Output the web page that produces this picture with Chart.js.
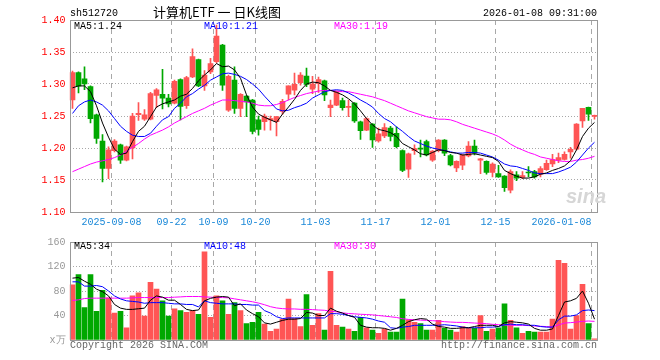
<!DOCTYPE html>
<html>
<head>
<meta charset="utf-8">
<script src="https://cdn.jsdelivr.net/npm/chart.js"></script>
<style>
  html, body { margin: 0; padding: 0; background: #fff; }
  #wrap { position: relative; width: 660px; height: 360px; overflow: hidden;
    font-family: "Liberation Mono", "DejaVu Sans Mono", monospace; font-size: 10px; }
  canvas { position: absolute; left: 0; }
  #priceChart { top: 0; }
  #volumeChart { top: 232px; }
  .txt { position: absolute; white-space: pre; line-height: 12px; }
  .right { text-align: right; }
</style>
</head>
<body>
<div id="wrap">
  <canvas id="priceChart" width="660" height="232"></canvas>
  <canvas id="volumeChart" width="660" height="128"></canvas>

  <div class="txt" style="left:70px; top:8px; color:#000;">sh512720</div>
  <div class="txt" style="left:117px; top:4px; width:200px; text-align:center; line-height:16px; font-size:13px; font-family:'Noto Sans CJK SC', sans-serif; color:#000;">计算机ETF 一 日K线图</div>
  <div class="txt right" style="right:63px; top:8px; color:#000;">2026-01-08 09:31:00</div>

  <div class="txt" style="left:74px; top:21px; color:#000;">MA5:1.24</div>
  <div class="txt" style="left:204px; top:21px; color:#0000ff;">MA10:1.21</div>
  <div class="txt" style="left:334px; top:21px; color:#ff00ff;">MA30:1.19</div>

  <div class="txt" style="left:566px; top:184px; font: italic bold 20px 'Liberation Sans', sans-serif; line-height:24px; color:#d6d6d6;">sina</div>

  <div class="txt" style="left:74px; top:241px; color:#000;">MA5:34</div>
  <div class="txt" style="left:204px; top:241px; color:#0000ff;">MA10:48</div>
  <div class="txt" style="left:334px; top:241px; color:#ff00ff;">MA30:30</div>

  <div class="txt" style="left:70px; top:340px; color:#666;">Copyright 2026 SINA.COM</div>
  <div class="txt right" style="right:63px; top:340px; color:#666;">http://finance.sina.com.cn</div>
</div>

<script>
const dates = [
  "2025-08-28", "2025-08-29",
  "2025-09-01", "2025-09-02", "2025-09-03", "2025-09-04", "2025-09-05",
  "2025-09-08", "2025-09-09", "2025-09-10", "2025-09-11", "2025-09-12",
  "2025-09-15", "2025-09-16", "2025-09-17", "2025-09-18", "2025-09-19",
  "2025-09-22", "2025-09-23", "2025-09-24", "2025-09-25", "2025-09-26",
  "2025-09-29", "2025-09-30",
  "2025-10-09", "2025-10-10", "2025-10-13", "2025-10-14", "2025-10-15",
  "2025-10-16", "2025-10-17", "2025-10-20", "2025-10-21", "2025-10-22",
  "2025-10-23", "2025-10-24", "2025-10-27", "2025-10-28", "2025-10-29",
  "2025-10-30", "2025-10-31",
  "2025-11-03", "2025-11-04", "2025-11-05", "2025-11-06", "2025-11-07",
  "2025-11-10", "2025-11-11", "2025-11-12", "2025-11-13", "2025-11-14",
  "2025-11-17", "2025-11-18", "2025-11-19", "2025-11-20", "2025-11-21",
  "2025-11-24", "2025-11-25", "2025-11-26", "2025-11-27", "2025-11-28",
  "2025-12-01", "2025-12-02", "2025-12-03", "2025-12-04", "2025-12-05",
  "2025-12-08", "2025-12-09", "2025-12-10", "2025-12-11", "2025-12-12",
  "2025-12-15", "2025-12-16", "2025-12-17", "2025-12-18", "2025-12-19",
  "2025-12-22", "2025-12-23", "2025-12-24", "2025-12-25", "2025-12-26",
  "2025-12-29", "2025-12-30", "2025-12-31",
  "2026-01-05", "2026-01-06", "2026-01-07", "2026-01-08",
];

const tickDates = ["2025-09-08", "2025-09-22", "2025-10-09", "2025-10-20", "2025-11-03",
  "2025-11-17", "2025-12-01", "2025-12-15", "2026-01-08"];
const tickTexts = ["2025-09-08", "09-22", "10-09", "10-20", "11-03",
  "11-17", "12-01", "12-15", "2026-01-08"];

const openPrices = [1.275, 1.318, 1.308, 1.296, 1.252, 1.211, 1.168, 1.196, 1.205, 1.181,
  1.200, 1.252, 1.245, 1.245, 1.282, 1.284, 1.278, 1.270, 1.307, 1.266,
  1.311, 1.338, 1.297, 1.319, 1.335, 1.361, 1.259, 1.306, 1.262, 1.281,
  1.275, 1.244, 1.241, 1.244, 1.241, 1.257, 1.284, 1.2905, 1.302, 1.3125,
  1.292, 1.301, 1.305, 1.263, 1.267, 1.274, 1.2635, 1.270, 1.241, 1.228,
  1.2375, 1.211, 1.219, 1.231, 1.223, 1.196, 1.167, 1.196, 1.200, 1.210,
  1.181, 1.196, 1.2125, 1.188, 1.169, 1.173, 1.1875, 1.203, 1.181, 1.179,
  1.162, 1.160, 1.156, 1.134, 1.158, 1.154, 1.162, 1.163, 1.159, 1.166,
  1.175, 1.181, 1.182, 1.194, 1.198, 1.2425, 1.2635, 1.2495];
const highPrices = [1.320, 1.319, 1.327, 1.297, 1.253, 1.221, 1.202, 1.213, 1.206, 1.203,
  1.254, 1.271, 1.260, 1.287, 1.293, 1.323, 1.284, 1.306, 1.308, 1.312,
  1.355, 1.339, 1.321, 1.340, 1.392, 1.362, 1.314, 1.327, 1.285, 1.282,
  1.276, 1.250, 1.253, 1.250, 1.249, 1.276, 1.297, 1.317, 1.318, 1.325,
  1.312, 1.311, 1.306, 1.275, 1.289, 1.278, 1.275, 1.271, 1.242, 1.247,
  1.238, 1.231, 1.238, 1.234, 1.233, 1.197, 1.192, 1.205, 1.2125, 1.2125,
  1.196, 1.213, 1.213, 1.190, 1.180, 1.190, 1.210, 1.2125, 1.184, 1.180,
  1.177, 1.173, 1.157, 1.166, 1.163, 1.163, 1.171, 1.165, 1.171, 1.181,
  1.190, 1.192, 1.194, 1.201, 1.238, 1.262, 1.264, 1.2516];
const lowPrices = [1.262, 1.286, 1.291, 1.239, 1.207, 1.147, 1.152, 1.194, 1.176, 1.180,
  1.183, 1.243, 1.243, 1.244, 1.263, 1.261, 1.264, 1.269, 1.244, 1.262,
  1.310, 1.296, 1.290, 1.316, 1.333, 1.290, 1.257, 1.254, 1.249, 1.249,
  1.222, 1.220, 1.228, 1.228, 1.219, 1.253, 1.275, 1.283, 1.298, 1.296,
  1.285, 1.287, 1.274, 1.249, 1.266, 1.259, 1.249, 1.240, 1.2135, 1.227,
  1.201, 1.209, 1.216, 1.211, 1.200, 1.163, 1.154, 1.190, 1.186, 1.1875,
  1.179, 1.194, 1.188, 1.172, 1.163, 1.166, 1.186, 1.189, 1.160, 1.159,
  1.155, 1.154, 1.132, 1.130, 1.149, 1.152, 1.155, 1.153, 1.155, 1.165,
  1.171, 1.177, 1.181, 1.184, 1.197, 1.232, 1.243, 1.245];
const closePrices = [1.318, 1.297, 1.300, 1.246, 1.215, 1.168, 1.197, 1.211, 1.181, 1.202,
  1.250, 1.254, 1.252, 1.285, 1.291, 1.278, 1.269, 1.304, 1.265, 1.310,
  1.343, 1.297, 1.314, 1.332, 1.375, 1.298, 1.312, 1.262, 1.284, 1.272,
  1.226, 1.229, 1.250, 1.246, 1.249, 1.273, 1.297, 1.2995, 1.314, 1.2995,
  1.300, 1.307, 1.283, 1.267, 1.288, 1.263, 1.2645, 1.2425, 1.227, 1.246,
  1.2125, 1.222, 1.232, 1.218, 1.202, 1.165, 1.191, 1.199, 1.198, 1.189,
  1.195, 1.2125, 1.192, 1.1735, 1.179, 1.189, 1.203, 1.192, 1.183, 1.162,
  1.175, 1.155, 1.138, 1.163, 1.153, 1.157, 1.161, 1.155, 1.168, 1.176,
  1.182, 1.185, 1.190, 1.198, 1.2375, 1.262, 1.253, 1.2505];

const priceMa5 = [1.294, 1.297, 1.297, 1.288, 1.266, 1.239, 1.217, 1.198, 1.190, 1.192,
  1.210, 1.226, 1.234, 1.249, 1.264, 1.269, 1.272, 1.275, 1.281, 1.284,
  1.293, 1.305, 1.314, 1.322, 1.332, 1.327, 1.328, 1.322, 1.309, 1.283,
  1.264, 1.253, 1.248, 1.244, 1.240, 1.253, 1.264, 1.276, 1.290, 1.300,
  1.303, 1.302, 1.297, 1.290, 1.287, 1.283, 1.277, 1.269, 1.258, 1.246,
  1.236, 1.229, 1.227, 1.224, 1.218, 1.207, 1.202, 1.197, 1.191, 1.189,
  1.193, 1.197, 1.196, 1.193, 1.192, 1.189, 1.190, 1.191, 1.189, 1.187,
  1.185, 1.179, 1.165, 1.160, 1.156, 1.153, 1.153, 1.155, 1.159, 1.161,
  1.165, 1.168, 1.172, 1.180, 1.197, 1.218, 1.231, 1.240];
const priceMa10 = [1.254, 1.266, 1.272, 1.275, 1.272, 1.267, 1.258, 1.246, 1.234, 1.226,
  1.220, 1.218, 1.218, 1.223, 1.234, 1.244, 1.249, 1.262, 1.270, 1.280,
  1.285, 1.292, 1.298, 1.306, 1.311, 1.316, 1.317, 1.315, 1.312, 1.307,
  1.300, 1.292, 1.281, 1.271, 1.261, 1.258, 1.259, 1.263, 1.266, 1.270,
  1.278, 1.283, 1.288, 1.290, 1.291, 1.290, 1.286, 1.281, 1.275, 1.270,
  1.264, 1.254, 1.246, 1.241, 1.233, 1.226, 1.218, 1.211, 1.207, 1.203,
  1.200, 1.198, 1.196, 1.194, 1.192, 1.192, 1.193, 1.193, 1.192, 1.189,
  1.186, 1.181, 1.175, 1.172, 1.171, 1.168, 1.165, 1.161, 1.160, 1.160,
  1.160, 1.1625, 1.166, 1.170, 1.178, 1.189, 1.200, 1.209];
const priceMa30 = [1.163, 1.167, 1.171, 1.175, 1.178, 1.180, 1.182, 1.185, 1.189, 1.195,
  1.201, 1.207, 1.214, 1.220, 1.224, 1.228, 1.233, 1.239, 1.244, 1.249,
  1.254, 1.258, 1.262, 1.267, 1.271, 1.275, 1.275, 1.274, 1.273, 1.272,
  1.270, 1.267, 1.266, 1.266, 1.268, 1.271, 1.275, 1.279, 1.282, 1.285,
  1.287, 1.289, 1.290, 1.290, 1.289, 1.288, 1.288, 1.286, 1.284, 1.282,
  1.280, 1.277, 1.274, 1.270, 1.266, 1.262, 1.258, 1.255, 1.252, 1.249,
  1.247, 1.245, 1.245, 1.244, 1.241, 1.237, 1.234, 1.231, 1.228, 1.225,
  1.222, 1.218, 1.2125, 1.206, 1.201, 1.197, 1.193, 1.190, 1.186, 1.184,
  1.182, 1.180, 1.179, 1.179, 1.181, 1.182, 1.184, 1.187];

// volume in 万
const volumes = [90, 107, 53, 107, 47, 81, 69, 44, 47, 20,
  72, 77, 39, 94, 83, 64, 39, 51, 48, 45,
  48, 42, 144, 37, 72, 64, 42, 61, 48, 27,
  29, 45, 26, 14, 18, 34, 67, 35, 22, 74,
  24, 43, 16, 112, 24, 21, 18, 14, 37, 20,
  16, 11, 18, 13, 13, 67, 33, 29, 27, 16,
  16, 32, 19, 16, 13, 22, 19, 19, 40, 14,
  18, 20, 59, 32, 20, 11, 14, 13, 13, 13,
  34, 130, 125, 18, 40, 91, 27, 2];
const volMa5 = [101, 102, 96, 91, 83, 79, 72, 58, 52, 50,
  50, 51, 52, 65, 72, 70, 65, 65, 58, 50,
  48, 49, 64, 68, 70, 71, 70, 56, 59, 49,
  43, 38, 28, 26, 29, 32, 34, 34, 35, 45,
  44, 40, 40, 52, 47, 44, 40, 37, 24, 21,
  20, 20, 19, 16, 19, 24, 30, 33, 35, 34,
  26, 22, 21, 19, 19, 20, 20, 22, 24, 24,
  24, 22, 28, 30, 29, 28, 26, 19, 16, 16,
  18, 40, 62, 64, 68, 80, 60, 34];
const volMa10 = [95, 95, 88, 88, 89, 87, 80, 72, 67, 64,
  63, 62, 60, 61, 61, 61, 60, 59, 59, 58,
  58, 54, 64, 61, 60, 59, 59, 59, 58, 58,
  57, 57, 48, 44, 38, 35, 36, 36, 36, 36,
  36, 36, 36, 43, 43, 42, 40, 38, 37, 36,
  34, 31, 29, 20, 19, 21, 22, 24, 24, 24,
  24, 24, 25, 24, 23, 21, 20, 20, 20, 21,
  21, 22, 25, 26, 25, 25, 24, 24, 22, 21,
  21, 33, 39, 39, 41, 48, 49, 48];
const volMa30 = [64.5, 65.6, 67.7, 68.3, 68.3, 68.3, 68.3, 68.3, 68.3, 68.3,
  68.8, 69.3, 69.3, 69.3, 69.3, 69.3, 69.3, 69.9, 70.4, 71,
  71, 71, 70.4, 69.9, 69.3, 69.3, 68.8, 67.2, 65.6, 64,
  62.4, 60.3, 57.6, 54.4, 52.3, 51.2, 50.7, 50.7, 50.1, 50.1,
  49.6, 49, 48.5, 47, 46, 44.3, 43.2, 42.7, 42, 41.6,
  41, 40, 39, 37.9, 36.8, 34.7, 33.6, 33, 32.5, 32,
  31.5, 31, 29.9, 29.3, 28.8, 28.8, 28.3, 27.7, 27.2, 26.7,
  25.6, 25, 24.5, 24, 24, 24, 23.5, 22.9, 22.4, 21.9,
  21.3, 24.5, 27.7, 28.3, 29.3, 30.4, 31, 30.4];

const FONT_MONO = "'Liberation Mono', 'DejaVu Sans Mono', monospace";
const UP_COLOR = "#ff5555";
const DOWN_COLOR = "#00a800";
const GRID_COLOR = "#a8a8a8";

const candleColors = closePrices.map((c, i) => (c >= openPrices[i] ? UP_COLOR : DOWN_COLOR));

function isTickIndex(index) {
  return tickDates.includes(dates[index]);
}

function tickTextFor(index) {
  const pos = tickDates.indexOf(dates[index]);
  return pos >= 0 ? tickTexts[pos] : "";
}

// grey frame round each panel
const panelFrame = {
  id: "panelFrame",
  afterDraw(chart) {
    const { ctx, chartArea } = chart;
    const left = Math.floor(chartArea.left) + 1.5;
    const right = Math.floor(chartArea.right) + 0.5;
    const top = Math.round(chartArea.top) + 0.5;
    const bottom = Math.round(chartArea.bottom) + 0.5;
    ctx.save();
    ctx.strokeStyle = "#999";
    ctx.lineWidth = 1;
    ctx.strokeRect(left, top, right - left, bottom - top);
    ctx.restore();
  },
};

function maLine(data, color) {
  return {
    type: "line",
    data,
    borderColor: color,
    borderWidth: 1,
    pointRadius: 0,
    tension: 0,
    fill: false,
    order: 0,
  };
}

function xScale(showTicks) {
  return {
    offset: true,
    grid: {
      offset: true,
      drawTicks: false,
      lineWidth: 1,
      color: (c) => (isTickIndex(c.index) ? GRID_COLOR : "rgba(0,0,0,0)"),
    },
    border: { display: false, dash: [5, 4] },
    ticks: {
      display: showTicks,
      autoSkip: false,
      maxRotation: 0,
      align: "inner",
      labelOffset: -3,
      padding: 4,
      color: "#1a88d8",
      font: { family: FONT_MONO, size: 10 },
      callback(value, index) {
        return tickTextFor(index);
      },
    },
    afterFit(scale) {
      scale.height = showTicks ? 20 : 0;
    },
  };
}

function buildPriceChart(ctx) {
  return new Chart(ctx, {
    type: "bar",
    data: {
      labels: dates,
      datasets: [
        maLine(priceMa5, "#000000"),
        maLine(priceMa10, "#0000ff"),
        maLine(priceMa30, "#ff00ff"),
        {
          data: lowPrices.map((l, i) => [l, highPrices[i]]),
          backgroundColor: candleColors,
          barThickness: 1,
          grouped: false,
          order: 2,
        },
        {
          data: openPrices.map((o, i) => [o, closePrices[i]]),
          backgroundColor: candleColors,
          barThickness: 5,
          minBarLength: 1,
          grouped: false,
          order: 1,
        },
      ],
    },
    options: {
      responsive: false,
      animation: false,
      events: [],
      layout: { padding: { top: 20, right: 62.5, bottom: 0, left: 0 } },
      plugins: { legend: { display: false }, tooltip: { enabled: false } },
      scales: {
        x: xScale(true),
        y: {
          min: 1.1,
          max: 1.4,
          grid: {
            drawTicks: false,
            color: GRID_COLOR,
          },
          border: { display: false, dash: [1, 2] },
          ticks: {
            stepSize: 0.05,
            padding: 4,
            color: "#ff0000",
            font: { family: FONT_MONO, size: 10 },
            callback(value) {
              return Number(value).toFixed(2);
            },
          },
          afterFit(scale) {
            scale.width = 69.5;
          },
        },
      },
    },
    plugins: [panelFrame],
  });
}

function buildVolumeChart(ctx) {
  return new Chart(ctx, {
    type: "bar",
    data: {
      labels: dates,
      datasets: [
        maLine(volMa5, "#000000"),
        maLine(volMa10, "#0000ff"),
        maLine(volMa30, "#ff00ff"),
        {
          data: volumes,
          backgroundColor: candleColors,
          barThickness: 5,
          grouped: false,
          order: 1,
        },
      ],
    },
    options: {
      responsive: false,
      animation: false,
      events: [],
      layout: { padding: { top: 8, right: 62.5, bottom: 20, left: 0 } },
      plugins: { legend: { display: false }, tooltip: { enabled: false } },
      scales: {
        x: xScale(false),
        y: {
          min: 0,
          max: 160,
          grid: {
            drawTicks: false,
            color: GRID_COLOR,
          },
          border: { display: false, dash: [1, 2] },
          ticks: {
            stepSize: 40,
            padding: 4,
            color: "#999999",
            font: { family: FONT_MONO, size: 10 },
            callback(value) {
              return value === 0 ? "x万" : String(value);
            },
          },
          afterFit(scale) {
            scale.width = 69.5;
          },
        },
      },
    },
    plugins: [panelFrame],
  });
}

buildPriceChart(document.getElementById("priceChart"));
buildVolumeChart(document.getElementById("volumeChart"));
</script>
</body>
</html>
